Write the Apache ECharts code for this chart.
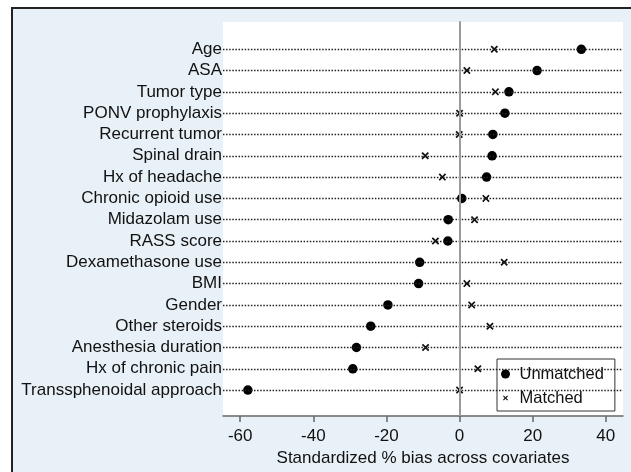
<!DOCTYPE html>
<html>
<head>
<meta charset="utf-8">
<script src="https://cdn.jsdelivr.net/npm/echarts@6/dist/echarts.min.js"></script>
<style>
  body { margin: 0; background: #fff; overflow: hidden; }
  #frame { position: absolute; left: 11px; top: 7px; width: 640px; height: 480px;
           border: 2px solid #222; background: #e8f1f7; }
  #main { position: absolute; left: 0; top: 0; width: 631px; height: 472px; }
</style>
</head>
<body>
<div id="frame"></div>
<div id="main"></div>
<script>
// covariates, top to bottom
var covariates = ['Age', 'ASA', 'Tumor type', 'PONV prophylaxis', 'Recurrent tumor',
  'Spinal drain', 'Hx of headache', 'Chronic opioid use', 'Midazolam use', 'RASS score',
  'Dexamethasone use', 'BMI', 'Gender', 'Other steroids', 'Anesthesia duration',
  'Hx of chronic pain', 'Transsphenoidal approach'];
// standardized % bias
var unmatched = [33.3, 21.2, 13.5, 12.4, 9.1, 8.9, 7.4, 0.6, -3.1, -3.2,
  -10.9, -11.2, -19.6, -24.3, -28.2, -29.2, -57.9];
var matched = [9.5, 2.0, 9.8, 0.0, -0.1, -9.4, -4.7, 7.2, 4.1, -6.6,
  12.2, 2.0, 3.3, 8.3, -9.3, 5.0, 0.0];
var xTicks = [-60, -40, -20, 0, 20, 40];

var n = covariates.length;
var rowPos = covariates.map(function (c, i) { return n - i; });
var font = 'Liberation Sans, Arial, sans-serif';
var crossShape = 'M0,1.6 L1.6,0 L5,3.4 L8.4,0 L10,1.6 L6.6,5 L10,8.4 L8.4,10 L5,6.6 L1.6,10 L0,8.4 L3.4,5 Z';
var crossPath = 'path://' + crossShape;
// same cross with empty margin so the legend icon comes out smaller
var crossLegend = 'path://M-4,-4 L-4,-4 M14,14 L14,14 ' + crossShape;

var myChart = echarts.init(document.getElementById('main'));

var option = {
  animation: false,
  textStyle: { fontFamily: font },
  grid: { left: 223, top: 22, right: 8, bottom: 55, show: true,
    backgroundColor: '#fff', borderWidth: 0 },
  legend: {
    orient: 'vertical', left: 497, top: 359,
    backgroundColor: '#fff', borderColor: '#333', borderWidth: 1,
    padding: [5, 11, 3, 4], itemGap: 4,
    itemWidth: 18, itemHeight: 9,
    textStyle: { fontSize: 16.5, color: '#111', fontFamily: font, lineHeight: 20 },
    data: [
      { name: 'Unmatched', icon: 'circle' },
      { name: 'Matched', icon: crossLegend, itemStyle: { color: '#111' } }
    ]
  },
  xAxis: {
    type: 'value', min: -64.7, max: 44.7,
    name: 'Standardized % bias across covariates',
    nameLocation: 'middle', nameGap: 29,
    nameTextStyle: { fontSize: 17, color: '#111', fontFamily: font },
    splitLine: { show: false },
    axisLine: { show: true, onZero: false, lineStyle: { color: '#666', width: 1.5 } },
    axisTick: { show: true, length: 6, customValues: xTicks, lineStyle: { color: '#666', width: 1.5 } },
    axisLabel: { customValues: xTicks, margin: 12, fontSize: 17, color: '#111', fontFamily: font }
  },
  yAxis: {
    type: 'value', min: -0.22, max: 18.28,
    splitLine: { show: false },
    axisLine: { show: true, lineStyle: { color: '#555', width: 1.5 } },
    axisTick: { show: false, customValues: rowPos },
    axisLabel: {
      customValues: rowPos, margin: 1, fontSize: 17, color: '#111', fontFamily: font,
      formatter: function (v) { return covariates[n - Math.round(v)]; }
    }
  },
  series: [
    {
      name: 'Rows', type: 'scatter', data: [], silent: true,
      markLine: {
        silent: true, symbol: 'none', label: { show: false },
        lineStyle: { color: '#222', type: [1.5, 1.6], width: 1.3 },
        data: rowPos.map(function (p) { return { yAxis: p }; })
          .concat([{ xAxis: 0, lineStyle: { color: '#9a9a9a', type: 'solid', width: 2 } }])
      }
    },
    {
      name: 'Unmatched', type: 'scatter', symbol: 'circle', symbolSize: 9.5,
      itemStyle: { color: '#000', opacity: 1 }, z: 4,
      data: unmatched.map(function (v, i) { return [v, rowPos[i]]; })
    },
    {
      name: 'Matched', type: 'scatter', symbol: crossPath, symbolSize: 7.5,
      itemStyle: { color: '#111', opacity: 1 }, z: 4,
      data: matched.map(function (v, i) { return [v, rowPos[i]]; })
    }
  ]
};

myChart.setOption(option);
</script>
</body>
</html>
